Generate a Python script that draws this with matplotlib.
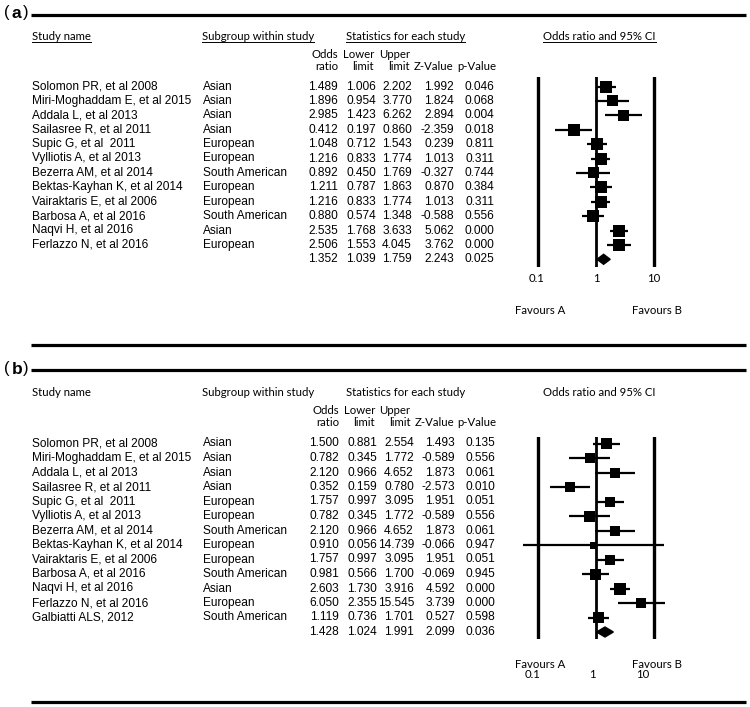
import matplotlib
matplotlib.use('Agg')
import matplotlib.pyplot as plt
import numpy as np
from matplotlib.patches import Polygon

# ---------------- data ----------------
studies_a = ["Solomon PR, et al 2008", "Miri-Moghaddam E, et al 2015", "Addala L, et al 2013",
             "Sailasree R, et al 2011", "Supic G, et al  2011", "Vylliotis A, et al 2013",
             "Bezerra AM, et al 2014", "Bektas-Kayhan K, et al 2014", "Vairaktaris E, et al 2006",
             "Barbosa A, et al 2016", "Naqvi H, et al 2016", "Ferlazzo N, et al 2016"]
subgroups_a = ["Asian", "Asian", "Asian", "Asian", "European", "European", "South American",
               "European", "European", "South American", "Asian", "European"]
or_a = [1.489, 1.896, 2.985, 0.412, 1.048, 1.216, 0.892, 1.211, 1.216, 0.880, 2.535, 2.506]
lower_a = [1.006, 0.954, 1.423, 0.197, 0.712, 0.833, 0.450, 0.787, 0.833, 0.574, 1.768, 1.553]
upper_a = [2.202, 3.770, 6.262, 0.860, 1.543, 1.774, 1.769, 1.863, 1.774, 1.348, 3.633, 4.045]
z_a = [1.992, 1.824, 2.894, -2.359, 0.239, 1.013, -0.327, 0.870, 1.013, -0.588, 5.062, 3.762]
p_a = [0.046, 0.068, 0.004, 0.018, 0.811, 0.311, 0.744, 0.384, 0.311, 0.556, 0.000, 0.000]
weight_a = [12, 11, 11, 12, 12, 12, 11, 12, 12, 12, 12, 12]
summary_a = [1.352, 1.039, 1.759, 2.243, 0.025]

studies_b = ["Solomon PR, et al 2008", "Miri-Moghaddam E, et al 2015", "Addala L, et al 2013",
             "Sailasree R, et al 2011", "Supic G, et al  2011", "Vylliotis A, et al 2013",
             "Bezerra AM, et al 2014", "Bektas-Kayhan K, et al 2014", "Vairaktaris E, et al 2006",
             "Barbosa A, et al 2016", "Naqvi H, et al 2016", "Ferlazzo N, et al 2016",
             "Galbiatti ALS, 2012"]
subgroups_b = ["Asian", "Asian", "Asian", "Asian", "European", "European", "South American",
               "European", "European", "South American", "Asian", "European", "South American"]
or_b = [1.500, 0.782, 2.120, 0.352, 1.757, 0.782, 2.120, 0.910, 1.757, 0.981, 2.603, 6.050, 1.119]
lower_b = [0.881, 0.345, 0.966, 0.159, 0.997, 0.345, 0.966, 0.056, 0.997, 0.566, 1.730, 2.355, 0.736]
upper_b = [2.554, 1.772, 4.652, 0.780, 3.095, 1.772, 4.652, 14.739, 3.095, 1.700, 3.916, 15.545, 1.701]
z_b = [1.493, -0.589, 1.873, -2.573, 1.951, -0.589, 1.873, -0.066, 1.951, -0.069, 4.592, 3.739, 0.527]
p_b = [0.135, 0.556, 0.061, 0.010, 0.051, 0.556, 0.061, 0.947, 0.051, 0.945, 0.000, 0.000, 0.598]
weight_b = [11, 10, 10, 10, 10, 11, 10, 7, 10, 11, 12, 10, 11]
summary_b = [1.428, 1.024, 1.991, 2.099, 0.036]

col_headers = [("Odds", "ratio"), ("Lower", "limit"), ("Upper", "limit"), ("", "Z-Value"), ("", "p-Value")]
tick_vals = [0.1, 1, 10]
tick_labels = ["0.1", "1", "10"]

# ---------------- layout ----------------
W, H = 750, 707
fig = plt.figure(figsize=(W / 100, H / 100), dpi=100)
bg = fig.add_axes([0, 0, 1, 1])
bg.set_xlim(0, W)
bg.set_ylim(H, 0)
bg.axis('off')
renderer = fig.canvas.get_renderer()

DATA_FONT = 'Liberation Sans'
HEAD_FONT = 'Lato'


def fit_size(s, family, target_px, base=10.0):
    t = bg.text(0, 0, s, fontsize=base, family=family)
    w = t.get_window_extent(renderer).width
    t.remove()
    return base * target_px / w


FS = fit_size("Miri-Moghaddam E, et al 2015", DATA_FONT, 159)
HFS = fit_size("Statistics for each study", HEAD_FONT, 119)

X1_PX, DEC_PX = 596.0, 58.0   # pixel of OR=1, pixels per decade


def px_to_val(px):
    return 10 ** ((px - X1_PX) / DEC_PX)


def rule(y):
    bg.plot([31, 746], [y, y], color='black', lw=2.3, solid_capstyle='butt')


def panel(label, y_label, y_head, y_sub, row0, step, studies, subs, ors, los, his, zs, ps,
          wts, summ, num_right, head_right, underline, forest_top, forest_bot, tick_y, fav_y,
          tick_x):
    # panel label
    bg.text(4, y_label, "(", fontsize=12, family=DATA_FONT, va='center', ha='left')
    bg.text(11.5, y_label, label, fontsize=12.5, family=DATA_FONT, weight='bold', va='center', ha='left')
    bg.text(23, y_label, ")", fontsize=12, family=DATA_FONT, va='center', ha='left')

    heads = [(32, "Study name"), (202, "Subgroup within study"), (346, "Statistics for each study"),
             (543, "Odds ratio and 95% CI")]
    htexts = []
    for x, s in heads:
        htexts.append(bg.text(x, y_head, s, fontsize=HFS, family=HEAD_FONT, va='center', ha='left'))
    if underline:
        inv = bg.transData.inverted()
        for t in htexts:
            bb = t.get_window_extent(renderer)
            (xa, ya), (xb, yb) = inv.transform([[bb.x0, bb.y0], [bb.x1, bb.y1]])
            bg.plot([xa, xb], [ya - 1.0, ya - 1.0], color='black', lw=0.7)

    for (l1, l2), xr in zip(col_headers, head_right):
        if l1:
            bg.text(xr, y_sub, l1, fontsize=HFS, family=HEAD_FONT, ha='right', va='center')
        bg.text(xr, y_sub + 11.5, l2, fontsize=HFS, family=HEAD_FONT, ha='right', va='center')

    n = len(studies)
    for i in range(n + 1):
        y = row0 + step * i
        if i < n:
            bg.text(32, y, studies[i], fontsize=FS, family=DATA_FONT, va='center')
            bg.text(203, y, subs[i], fontsize=FS, family=DATA_FONT, va='center')
            vals = [ors[i], los[i], his[i], zs[i], ps[i]]
        else:
            vals = summ
        for v, xr in zip(vals, num_right):
            bg.text(xr, y, f"{v:.3f}", fontsize=FS, family=DATA_FONT, va='center', ha='right')

    # forest plot axes, in pixel-aligned position
    left_px, right_px = 480, 720
    ax = fig.add_axes([left_px / W, 1 - forest_bot / H, (right_px - left_px) / W,
                       (forest_bot - forest_top) / H])
    ax.set_xscale('log')
    ax.set_xlim(px_to_val(left_px), px_to_val(right_px))
    ax.set_ylim((forest_bot - row0) / step, (forest_top - row0) / step)
    ax.axis('off')
    ax.patch.set_alpha(0)
    for v, lw in zip(tick_vals, [2.4, 2.0, 2.4]):
        ax.axvline(v, color='black', lw=lw)
    rows = np.arange(n)
    ax.hlines(rows, los, his, color='black', lw=1.6)
    ax.scatter(ors, rows, marker='s', s=(np.array(wts) * 0.72) ** 2, color='black', zorder=3,
               linewidths=0)
    o, lo, hi = summ[0], summ[1], summ[2]
    hh = 5.0 / step
    ax.add_patch(Polygon([[lo, n], [o, n - hh], [hi, n], [o, n + hh]], closed=True,
                         color='black', zorder=3))

    for v, s, xc in zip(tick_vals, tick_labels, tick_x):
        bg.text(xc, tick_y, s, fontsize=HFS, family=HEAD_FONT, ha='center', va='center')
    bg.text(515, fav_y, "Favours A", fontsize=HFS, family=HEAD_FONT, ha='left', va='center')
    bg.text(632, fav_y, "Favours B", fontsize=HFS, family=HEAD_FONT, ha='left', va='center')


rule(15)
panel("a", 13, 37, 55, 86.5, 14.4, studies_a, subgroups_a, or_a, lower_a, upper_a, z_a, p_a,
      weight_a, summary_a, [338, 376, 412, 454, 494], [338, 374, 410, 453.5, 496], True,
      77, 267, 279, 310, [537, 596, 654])
rule(345)
rule(370)
panel("b", 369, 393, 411, 443.5, 14.5, studies_b, subgroups_b, or_b, lower_b, upper_b, z_b, p_b,
      weight_b, summary_b, [339, 377, 414, 455, 495], [339, 375, 410.5, 454, 496], False,
      437, 639, 675, 664, [533, 592, 643])
rule(701.5)

fig.savefig('out.png', dpi=100)
